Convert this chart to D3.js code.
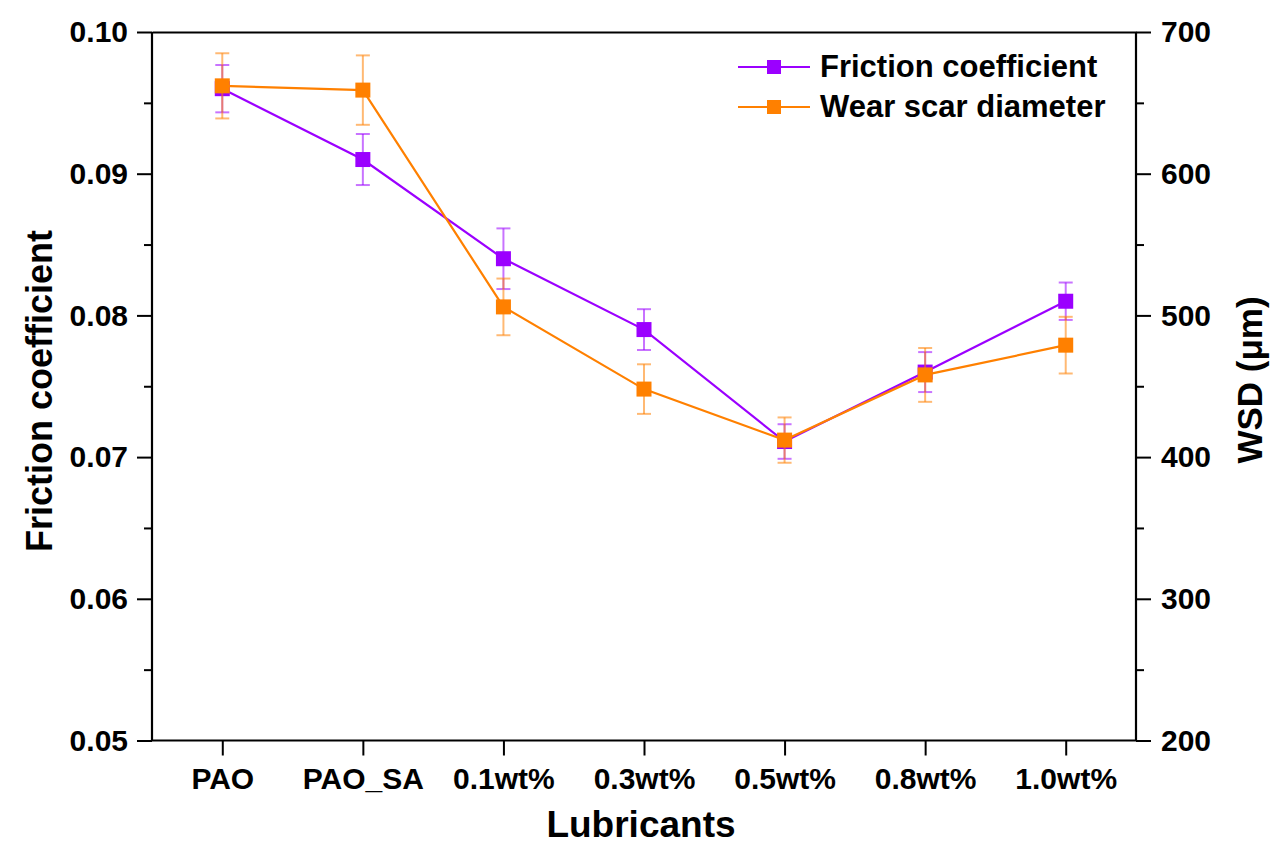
<!DOCTYPE html>
<html>
<head>
<meta charset="utf-8">
<script src="https://cdn.jsdelivr.net/npm/d3@7"></script>
<style>
html,body{margin:0;padding:0;background:#fff;}
svg text{font-family:"Liberation Sans",Arial,sans-serif;font-weight:bold;fill:#000;}
</style>
</head>
<body>
<svg id="chart" width="1282" height="857"></svg>
<script>
const categories = ["PAO","PAO_SA","0.1wt%","0.3wt%","0.5wt%","0.8wt%","1.0wt%"];
const frictionValues = [0.0960,0.0910,0.0840,0.0790,0.0711,0.0760,0.0810];
const frictionErrors = [0.00167,0.00180,0.00214,0.00144,0.00122,0.00141,0.00132];
const wsdValues = [662,659,506,448,412,458,479];
const wsdErrors = [23,24.5,20,17.5,16,19,20];
const leftTicks = [0.05,0.06,0.07,0.08,0.09,0.10];
const rightTicks = [200,300,400,500,600,700];
const seriesNames = ["Friction coefficient","Wear scar diameter"];

const svg = d3.select("#chart");
const L = 152, R = 1136, T = 32, B = 740.5;
const purple = "#9b00ff", orange = "#ff8000";

const x = d3.scalePoint().domain(categories).range([L,R]).padding(0.5);
const yL = d3.scaleLinear().domain([0.05,0.10]).range([B,T]);
const yR = d3.scaleLinear().domain([200,700]).range([B,T]);

// Axes
const axL = svg.append("g").attr("transform",`translate(${L},0)`)
  .call(d3.axisLeft(yL).tickValues(leftTicks).tickFormat(d3.format(".2f")).tickSize(15).tickPadding(9));
const axLm = svg.append("g").attr("transform",`translate(${L},0)`)
  .call(d3.axisLeft(yL).tickValues(d3.range(0.055,0.1,0.01)).tickFormat("").tickSize(8));
const axR = svg.append("g").attr("transform",`translate(${R},0)`)
  .call(d3.axisRight(yR).tickValues(rightTicks).tickFormat(d3.format("d")).tickSize(15).tickPadding(10));
const axRm = svg.append("g").attr("transform",`translate(${R},0)`)
  .call(d3.axisRight(yR).tickValues(d3.range(250,700,100)).tickFormat("").tickSize(8));
const axB = svg.append("g").attr("transform",`translate(0,${B})`)
  .call(d3.axisBottom(x).tickSize(15).tickPadding(12));
const axT = svg.append("g").attr("transform",`translate(0,${T})`)
  .call(d3.axisTop(x).tickValues([]).tickSizeOuter(0));

[axL,axLm,axR,axRm,axB,axT].forEach(g=>{
  g.selectAll("path.domain").attr("stroke","#000").attr("stroke-width",2.2);
  g.selectAll(".tick line").attr("stroke","#000").attr("stroke-width",2);
  g.selectAll("text").attr("font-size",30).style("font-family","'Liberation Sans',Arial,sans-serif").style("font-weight","bold").attr("fill","#000");
});
axB.selectAll("path.domain").attr("d",`M${L},0H${R}`);
axL.selectAll("path.domain").attr("d",`M0,${B}V${T}`);
axLm.selectAll("path.domain").remove();
axR.selectAll("path.domain").attr("d",`M0,${B}V${T}`);
axRm.selectAll("path.domain").remove();
axB.selectAll("text").attr("dy","0.71em");

// Axis titles
svg.append("text").attr("transform",`translate(52,391) rotate(-90)`).attr("text-anchor","middle")
  .attr("font-size",36).text("Friction coefficient");
svg.append("text").attr("transform",`translate(1262,380) rotate(-90)`).attr("text-anchor","middle")
  .attr("font-size",35).text("WSD (μm)");
svg.append("text").attr("x",641).attr("y",837).attr("text-anchor","middle")
  .attr("font-size",37).text("Lubricants");

// Series
const series = [
  {vals:frictionValues, errs:frictionErrors, y:yL, color:purple},
  {vals:wsdValues, errs:wsdErrors, y:yR, color:orange}
];
const ms = 15, cap = 7;
series.forEach(s=>{
  const data = categories.map((c,i)=>({c, v:s.vals[i], e:s.errs[i]}));
  const g = svg.append("g");
  g.selectAll("g.err").data(data).enter().append("g").attr("class","err")
    .attr("stroke",s.color).attr("stroke-opacity",0.55).attr("stroke-width",2)
    .each(function(d){
      const gg = d3.select(this), cx = x(d.c), y1 = s.y(d.v+d.e), y2 = s.y(d.v-d.e);
      gg.append("line").attr("x1",cx).attr("x2",cx).attr("y1",y1).attr("y2",y2);
      gg.append("line").attr("x1",cx-cap).attr("x2",cx+cap).attr("y1",y1).attr("y2",y1);
      gg.append("line").attr("x1",cx-cap).attr("x2",cx+cap).attr("y1",y2).attr("y2",y2);
    });
  g.append("path").datum(data).attr("fill","none").attr("stroke",s.color).attr("stroke-width",2.2)
    .attr("d",d3.line().x(d=>x(d.c)).y(d=>s.y(d.v)));
  g.selectAll("rect").data(data).enter().append("rect")
    .attr("x",d=>x(d.c)-ms/2).attr("y",d=>s.y(d.v)-ms/2).attr("width",ms).attr("height",ms)
    .attr("fill",s.color);
});

// Legend
const leg = svg.append("g");
seriesNames.forEach((name,i)=>{
  const yy = 67 + i*40;
  const col = i===0?purple:orange;
  leg.append("line").attr("x1",738).attr("x2",810).attr("y1",yy).attr("y2",yy).attr("stroke",col).attr("stroke-width",2);
  leg.append("rect").attr("x",774-7).attr("y",yy-7).attr("width",14).attr("height",14).attr("fill",col);
  leg.append("text").attr("x",820).attr("y",yy+10).attr("font-size",31).text(name);
});
</script>
</body>
</html>
